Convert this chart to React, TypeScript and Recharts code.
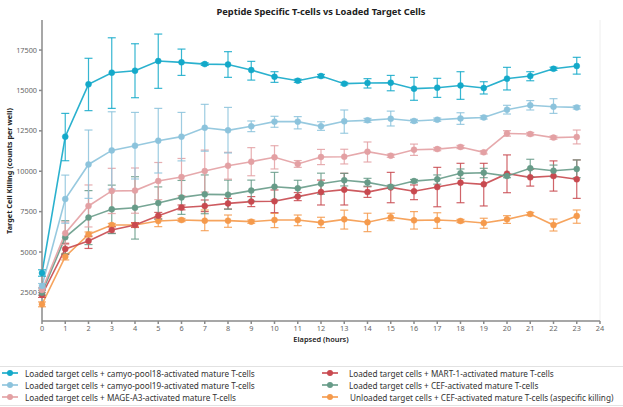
import React from "react";
import { LineChart, Line, XAxis, YAxis, ErrorBar, ReferenceLine } from "recharts";

const hours = [0,1,2,3,4,5,6,7,8,9,10,11,12,13,14,15,16,17,18,19,20,21,22,23];
const xTicks = [0,1,2,3,4,5,6,7,8,9,10,11,12,13,14,15,16,17,18,19,20,21,22,23,24];
const yTicks = [2500, 5000, 7500, 10000, 12500, 15000, 17500];

const seriesNames = [
  "Loaded target cells + camyo-pool18-activated mature T-cells",
  "Loaded target cells + camyo-pool19-activated mature T-cells",
  "Loaded target cells + MAGE-A3-activated mature T-cells",
  "Loaded target cells + MART-1-activated mature T-cells",
  "Loaded target cells + CEF-activated mature T-cells",
  "Unloaded target cells + CEF-activated mature T-cells (aspecific killing)",
];

const pool18 = [3700,12140,15380,16100,16220,16820,16740,16630,16610,16260,15850,15600,15890,15420,15460,15480,15110,15170,15310,15150,15730,15890,16340,16510];
const pool18Err = [[200,200],[1490,1440],[1630,1610],[2210,2160],[1670,1670],[1690,1670],[810,820],[80,80],[800,790],[620,540],[350,310],[100,100],[100,100],[80,80],[310,270],[500,450],[720,700],[600,580],[860,850],[370,390],[700,700],[290,270],[100,100],[500,540]];

const pool19 = [2900,8280,10420,11290,11580,11890,12140,12690,12530,12780,13070,13070,12780,13090,13150,13250,13110,13190,13270,13330,13810,14080,13990,13950];
const pool19Err = [[150,150],[1500,1480],[2100,2130],[2400,2390],[2060,2060],[2000,2000],[1500,1500],[1450,1450],[1400,1420],[330,330],[350,330],[450,310],[250,280],[740,700],[120,120],[450,470],[100,100],[100,100],[370,350],[100,100],[270,270],[290,290],[410,500],[100,100]];

const mage = [2650,6160,7850,8780,8800,9390,9640,10010,10340,10590,10860,10450,10880,10900,11210,10960,11330,11370,11500,11170,12340,12300,12080,12120];
const mageErr = [[150,150],[700,700],[1300,1300],[1400,1400],[1400,1400],[1150,1150],[1150,1150],[1300,1300],[830,830],[870,870],[720,720],[210,210],[470,470],[450,460],[640,600],[100,100],[350,350],[100,100],[100,100],[100,100],[170,170],[100,100],[100,100],[430,430]];

const mart = [2340,5190,5680,6360,6670,7250,7760,7850,8010,8120,8140,8430,8710,8860,8710,9000,8760,9020,9290,9190,9850,9620,9700,9500];
const martErr = [[150,150],[350,350],[460,310],[200,200],[150,150],[200,200],[150,150],[350,370],[350,310],[310,310],[700,700],[250,250],[800,740],[950,1010],[330,330],[950,930],[520,390],[1220,1220],[1240,1200],[1340,1300],[1180,1160],[540,500],[930,940],[1180,1200]];

const cef = [2480,5910,7130,7640,7740,8030,8380,8570,8550,8800,9040,8940,9230,9440,9310,9040,9390,9500,9870,9910,9700,10180,10030,10140];
const cefErr = [[150,150],[1030,1030],[1670,1670],[1500,1500],[1940,1920],[1000,1000],[1050,1050],[1200,1200],[900,900],[650,650],[820,890],[500,500],[650,650],[350,430],[230,250],[100,100],[100,100],[300,270],[310,270],[310,270],[100,100],[520,560],[370,350],[540,560]];

const unloaded = [1760,4710,6090,6670,6670,6920,6980,6940,6940,6880,6980,6980,6820,7020,6840,7150,6960,6980,6920,6800,7020,7350,6670,7230];
const unloadedErr = [[150,150],[200,200],[150,150],[100,100],[100,100],[350,270],[100,100],[620,660],[410,350],[100,100],[470,410],[350,310],[310,330],[600,570],[580,560],[210,250],[540,540],[520,450],[100,100],[330,290],[250,230],[100,100],[370,370],[450,370]];

const colors = ["#13a9c9", "#8cc3dc", "#e3a0a3", "#c8494f", "#679b88", "#f59a4c"];
const seriesVals = [pool18, pool19, mage, mart, cef, unloaded];
const seriesErrs = [pool18Err, pool19Err, mageErr, martErr, cefErr, unloadedErr];

const rows = hours.map((h, i) => {
  const r: any = { h };
  seriesVals.forEach((s, k) => {
    r["s" + k] = s[i];
    r["e" + k] = seriesErrs[k][i];
  });
  return r;
});

const font = "'Noto Sans', sans-serif";

const drawOrder = [5, 3, 4, 2, 1, 0];
const legendOrder = [0, 3, 1, 4, 2, 5];

export default function App() {
  return (
    <div style={{ position: "absolute", left: 0, top: 0, width: 623, height: 407, background: "#fff", fontFamily: font, overflow: "hidden" }}>
      <div style={{ position: "absolute", left: 42, width: 558, top: 5, textAlign: "center", fontSize: 9.3, fontWeight: 700, color: "#222" }}>
        Peptide Specific T-cells vs Loaded Target Cells
      </div>
      <div style={{ position: "absolute", left: 9, top: 171, transform: "translate(-50%, -50%) rotate(-90deg)", whiteSpace: "nowrap", fontSize: 7.3, fontWeight: 700, color: "#222" }}>
        Target Cell Killing (counts per well)
      </div>
      <LineChart width={623} height={407} data={rows} margin={{ top: 20, right: 23, left: 0, bottom: 56 }}>
        <ReferenceLine x={24} stroke="#eeeeee" strokeWidth={1} ifOverflow="extendDomain" />
        <XAxis
          dataKey="h"
          type="number"
          domain={[0, 24]}
          ticks={xTicks}
          interval={0}
          height={30}
          stroke="#8a8a8a"
          strokeWidth={1.5}
          tickSize={3}
          tick={{ fontSize: 7.3, fill: "#666", fontFamily: font }}
          label={{ value: "Elapsed (hours)", position: "insideBottom", offset: 9, fontSize: 7.4, fill: "#222", fontWeight: 600, fontFamily: font }}
        />
        <YAxis
          type="number"
          domain={[730, 19360]}
          ticks={yTicks}
          width={42}
          stroke="#8a8a8a"
          strokeWidth={1.5}
          tickSize={3}
          tick={{ fontSize: 7.3, fill: "#666", fontFamily: font }}
          allowDataOverflow
        />
        {drawOrder.map((k) => (
          <Line
            key={k}
            dataKey={"s" + k}
            type="linear"
            stroke={colors[k]}
            strokeWidth={1.6}
            strokeOpacity={0.9}
            dot={{ r: 3, fill: colors[k], stroke: colors[k], strokeWidth: 0.5 }}
            activeDot={false}
            isAnimationActive={false}
          >
            <ErrorBar dataKey={"e" + k} width={4} stroke={colors[k]} strokeWidth={1.2} strokeOpacity={0.85} direction="y" />
          </Line>
        ))}
      </LineChart>
      <div style={{ position: "absolute", left: 0, top: 366, width: 623, height: 38, borderTop: "1px solid #e2e2e2", borderBottom: "1px solid #e2e2e2" }} />
      {legendOrder.map((k, idx) => {
        const col = idx % 2;
        const row = Math.floor(idx / 2);
        const left = col === 0 ? 2 : 322;
        const top = 373 + row * 12;
        return (
          <div key={k} style={{ position: "absolute", left, top: top - 6, height: 12, display: "flex", alignItems: "center", whiteSpace: "nowrap" }}>
            <svg width={16} height={12} style={{ display: "block" }}>
              <line x1={0} y1={6} x2={16} y2={6} stroke={colors[k]} strokeWidth={1.6} />
              <circle cx={8} cy={6} r={3} fill={colors[k]} />
            </svg>
            <span style={{ marginLeft: col === 0 ? 7 : (k === 5 ? 12 : 11), fontSize: 8.2, color: "#333" }}>{seriesNames[k]}</span>
          </div>
        );
      })}
    </div>
  );
}
